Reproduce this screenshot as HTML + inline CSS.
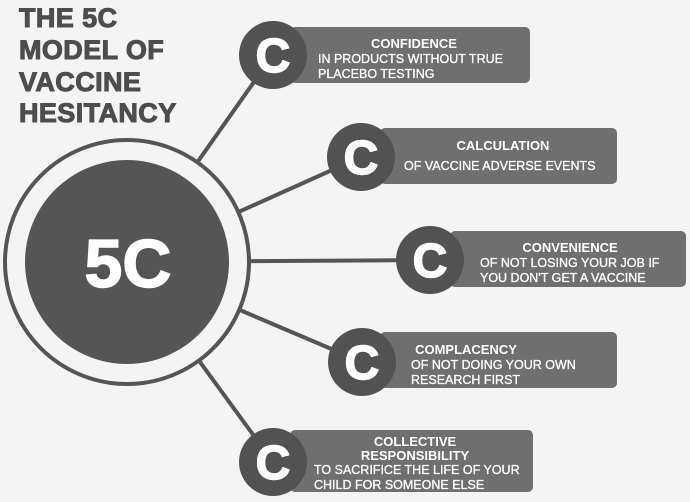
<!DOCTYPE html>
<html><head><style>
html,body{margin:0;padding:0;background:#f4f4f4;}
svg{display:block;}
text{font-family:"Liberation Sans",sans-serif;fill:#fff;}
.t{font-weight:bold;font-size:13px;}
.b{font-size:12.5px;stroke:#fff;stroke-width:0.3px;}
.h{font-weight:bold;font-size:27px;fill:#4d4d4d;stroke:#4d4d4d;stroke-width:1px;letter-spacing:0.4px}
</style></head><body>
<svg width="690" height="502" viewBox="0 0 690 502">
<rect width="690" height="502" fill="#f4f4f4"/>
<text class="h" x="19" y="27">THE 5C</text>
<text class="h" x="19" y="59">MODEL OF</text>
<text class="h" x="19" y="91">VACCINE</text>
<text class="h" x="19" y="122">HESITANCY</text>
<g stroke="#555" stroke-width="4">
<line x1="127" y1="262" x2="273" y2="55"/>
<line x1="127" y1="262" x2="361" y2="157"/>
<line x1="127" y1="262" x2="430" y2="260"/>
<line x1="127" y1="262" x2="362" y2="362"/>
<line x1="127" y1="262" x2="273" y2="462"/>
</g>
<circle cx="127" cy="262" r="122" fill="#f4f4f4" stroke="#555" stroke-width="4"/>
<circle cx="127" cy="262" r="102" fill="#555"/>
<text x="128" y="287" text-anchor="middle" style="font-weight:bold;font-size:68px;stroke:#fff;stroke-width:1.5px">5C</text>
<g fill="#6f6f6f">
<rect x="290" y="27" width="240" height="56" rx="5"/>
<rect x="380" y="128" width="237" height="56" rx="5"/>
<rect x="450" y="231" width="236" height="56" rx="5"/>
<rect x="380" y="332" width="237" height="56" rx="5"/>
<rect x="290" y="430" width="243" height="62" rx="5"/>
</g>
<g fill="#525252">
<circle cx="273" cy="55" r="34"/>
<circle cx="361" cy="157" r="34"/>
<circle cx="430" cy="260" r="34"/>
<circle cx="362" cy="362" r="34"/>
<circle cx="273" cy="462" r="34"/>
</g>
<g style="font-weight:bold;font-size:48px;stroke:#fff;stroke-width:1.5px" text-anchor="middle">
<text x="273" y="72">C</text>
<text x="361" y="174">C</text>
<text x="430" y="277">C</text>
<text x="362" y="379">C</text>
<text x="273" y="479">C</text>
</g>
<text class="t" x="414" y="48" text-anchor="middle">CONFIDENCE</text>
<text class="b" x="318" y="63">IN PRODUCTS WITHOUT TRUE</text>
<text class="b" x="318" y="78">PLACEBO TESTING</text>
<text class="t" x="503" y="150" text-anchor="middle">CALCULATION</text>
<text class="b" x="404" y="170">OF VACCINE ADVERSE EVENTS</text>
<text class="t" x="570" y="252" text-anchor="middle">CONVENIENCE</text>
<text class="b" x="480" y="267">OF NOT LOSING YOUR JOB IF</text>
<text class="b" x="480" y="282">YOU DON'T GET A VACCINE</text>
<text class="t" x="466" y="354" text-anchor="middle">COMPLACENCY</text>
<text class="b" x="411" y="369">OF NOT DOING YOUR OWN</text>
<text class="b" x="411" y="384">RESEARCH FIRST</text>
<text class="t" x="415" y="446" text-anchor="middle">COLLECTIVE</text>
<text class="t" x="415" y="460" text-anchor="middle">RESPONSIBILITY</text>
<text class="b" x="314" y="474">TO SACRIFICE THE LIFE OF YOUR</text>
<text class="b" x="314" y="489">CHILD FOR SOMEONE ELSE</text>
</svg>
</body></html>
